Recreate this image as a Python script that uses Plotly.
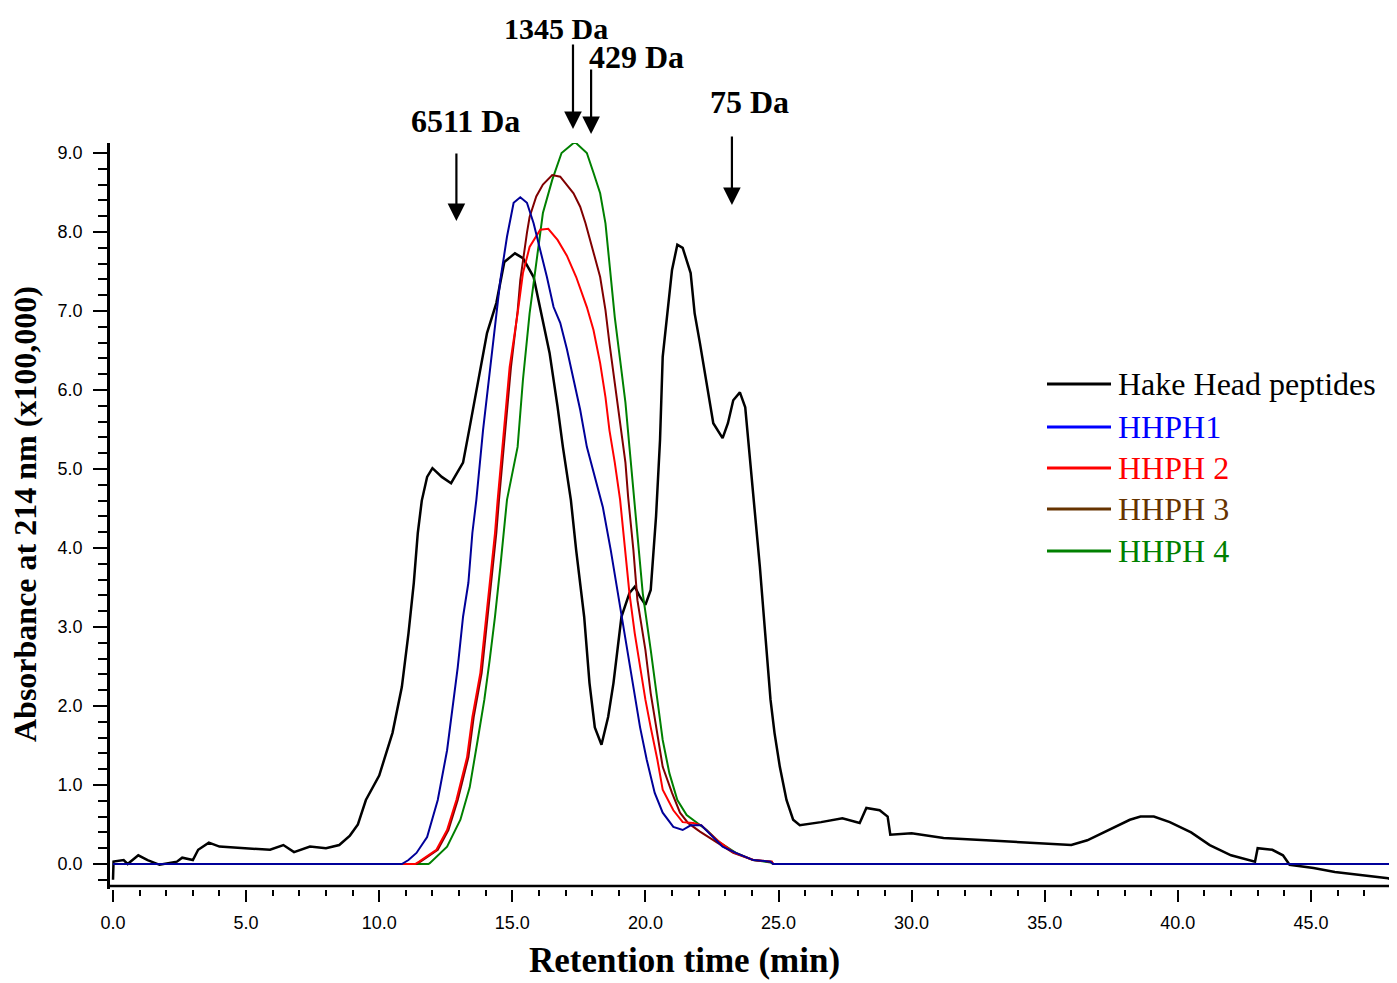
import plotly.graph_objects as go

# ---------------- data ----------------
hake_x = [0.0, 0.02, 0.4, 0.55, 0.95, 1.3, 1.75, 2.4, 2.6, 3.0, 3.2, 3.6, 4.0, 4.9, 5.9, 6.4, 6.8, 7.4, 8.0,
          8.5, 8.9, 9.2, 9.5, 10.0, 10.5, 10.85, 11.1, 11.3, 11.45, 11.6, 11.8, 12.0, 12.35, 12.7, 13.15,
          13.4, 13.8, 14.05, 14.4, 14.7, 15.1, 15.4, 15.8, 16.15, 16.4, 16.7, 16.9, 17.2, 17.4, 17.7, 17.9,
          18.1, 18.35, 18.6, 18.8, 19.1, 19.4, 19.6, 19.8, 20.0, 20.2, 20.4, 20.55, 20.65, 20.8, 21.0, 21.2,
          21.4, 21.7, 21.85, 22.05, 22.3, 22.55, 22.9, 23.1, 23.3, 23.55, 23.75, 23.9, 24.05, 24.3, 24.5,
          24.7, 24.85, 25.05, 25.3, 25.55, 25.8, 26.6, 27.4, 28.05, 28.3, 28.8, 29.1, 29.2, 30.0, 31.2,
          32.8, 34.3, 36.0, 36.6, 37.4, 38.2, 38.6, 39.1, 39.7, 40.5, 41.2, 42.0, 42.9, 43.0, 43.55, 43.95,
          44.2, 45.1, 45.9, 46.9, 47.9, 48.3]
hake_y = [-0.2, 0.03, 0.05, 0.0, 0.11, 0.05, -0.01, 0.03, 0.08, 0.05, 0.18, 0.27, 0.22, 0.2, 0.18, 0.24, 0.15,
          0.22, 0.2, 0.24, 0.36, 0.5, 0.81, 1.12, 1.66, 2.24, 2.92, 3.56, 4.19, 4.6, 4.9, 5.01, 4.9, 4.82,
          5.08, 5.53, 6.25, 6.72, 7.1, 7.62, 7.73, 7.67, 7.43, 6.89, 6.47, 5.79, 5.28, 4.61, 3.97, 3.13, 2.29,
          1.73, 1.51, 1.86, 2.29, 3.13, 3.43, 3.51, 3.38, 3.28, 3.47, 4.4, 5.37, 6.42, 6.92, 7.52, 7.84, 7.8,
          7.48, 6.97, 6.59, 6.09, 5.58, 5.39, 5.58, 5.87, 5.97, 5.78, 5.24, 4.73, 3.76, 2.92, 2.08, 1.66, 1.23,
          0.81, 0.56, 0.49, 0.53, 0.58, 0.52, 0.71, 0.68, 0.6, 0.37, 0.39, 0.33, 0.3, 0.27, 0.24, 0.3, 0.43,
          0.56, 0.6, 0.6, 0.53, 0.4, 0.24, 0.11, 0.03, 0.2, 0.18, 0.11, -0.01, -0.05, -0.1, -0.14, -0.18, -0.23]

hhph1_x = [0.0, 10.85, 11.1, 11.4, 11.8, 12.2, 12.55, 12.8, 12.95, 13.15, 13.35, 13.5, 13.65, 13.9, 14.3, 14.55,
           14.8, 15.05, 15.3, 15.55, 15.8, 16.05, 16.3, 16.55, 16.8, 17.05, 17.3, 17.55, 17.8, 18.05, 18.4,
           18.7, 18.9, 19.1, 19.3, 19.55, 19.8, 20.05, 20.35, 20.65, 21.05, 21.4, 21.7, 22.1, 22.4, 22.9, 23.4,
           24.05, 24.7, 24.8, 48.2]
hhph1_y = [0.0, 0.0, 0.05, 0.14, 0.34, 0.81, 1.44, 2.08, 2.49, 3.13, 3.56, 4.19, 4.61, 5.49, 6.63, 7.39, 7.94,
           8.37, 8.44, 8.37, 8.11, 7.77, 7.43, 7.05, 6.85, 6.52, 6.15, 5.75, 5.28, 4.95, 4.52, 3.97, 3.56, 3.13,
           2.71, 2.2, 1.73, 1.32, 0.9, 0.65, 0.47, 0.43, 0.49, 0.49, 0.39, 0.22, 0.14, 0.05, 0.03, 0.0, 0.0]

hhph2_x = [0.0, 11.35, 11.5, 12.15, 12.55, 12.9, 13.3, 13.5, 13.8, 13.95, 14.15, 14.35, 14.45, 14.65, 14.9, 15.2,
           15.4, 15.65, 16.05, 16.35, 16.7, 17.05, 17.4, 17.8, 18.05, 18.3, 18.5, 18.65, 18.85, 19.05, 19.25,
           19.4, 19.6, 19.8, 20.0, 20.2, 20.45, 20.65, 21.05, 21.4, 21.8, 22.1, 22.7, 23.3, 24.05, 24.75, 24.8,
           48.2]
hhph2_y = [0.0, 0.0, 0.03, 0.18, 0.43, 0.81, 1.35, 1.86, 2.42, 2.92, 3.51, 4.19, 4.61, 5.37, 6.29, 6.97, 7.48,
           7.81, 8.03, 8.04, 7.9, 7.7, 7.43, 7.05, 6.76, 6.34, 5.91, 5.49, 5.08, 4.61, 3.97, 3.43, 2.92, 2.49,
           2.08, 1.73, 1.32, 0.94, 0.68, 0.53, 0.52, 0.49, 0.3, 0.15, 0.05, 0.03, 0.0, 0.0]

hhph3_x = [0.0, 11.4, 11.55, 12.2, 12.6, 12.95, 13.35, 13.55, 13.85, 14.0, 14.2, 14.4, 14.5, 14.7, 14.95, 15.2,
           15.3, 15.55, 15.65, 15.9, 16.15, 16.5, 16.8, 17.3, 17.55, 17.75, 17.9, 18.1, 18.3, 18.5, 18.65, 18.85,
           19.05, 19.25, 19.35, 19.55, 19.7, 20.0, 20.2, 20.45, 20.65, 21.0, 21.3, 21.6, 22.05, 22.7, 23.3,
           24.05, 24.75, 24.8, 48.2]
hhph3_y = [0.0, 0.0, 0.03, 0.18, 0.43, 0.81, 1.35, 1.86, 2.42, 2.92, 3.51, 4.19, 4.61, 5.37, 6.29, 7.0, 7.39,
           7.99, 8.19, 8.45, 8.6, 8.72, 8.7, 8.49, 8.32, 8.11, 7.94, 7.68, 7.43, 7.01, 6.59, 6.09, 5.58, 5.08,
           4.65, 3.97, 3.34, 2.71, 2.16, 1.66, 1.23, 0.9, 0.65, 0.52, 0.41, 0.27, 0.14, 0.05, 0.03, 0.0, 0.0]

hhph4_x = [0.0, 11.85, 11.9, 12.55, 13.05, 13.4, 13.7, 13.95, 14.15, 14.35, 14.55, 14.8, 15.2, 15.4, 15.65, 15.9,
           16.15, 16.5, 16.85, 17.35, 17.8, 18.05, 18.3, 18.5, 18.65, 18.85, 19.05, 19.25, 19.4, 19.55, 19.7,
           19.9, 20.2, 20.45, 20.65, 20.9, 21.2, 21.55, 21.9, 22.3, 22.8, 23.4, 24.05, 24.7, 24.8, 48.2]
hhph4_y = [0.0, 0.0, 0.01, 0.22, 0.56, 0.97, 1.57, 2.08, 2.58, 3.13, 3.76, 4.61, 5.28, 6.13, 6.97, 7.61, 8.24,
           8.66, 9.0, 9.14, 9.0, 8.75, 8.49, 8.11, 7.61, 6.92, 6.38, 5.84, 5.28, 4.73, 4.1, 3.43, 2.71, 2.08,
           1.57, 1.15, 0.81, 0.62, 0.53, 0.43, 0.27, 0.14, 0.05, 0.02, 0.0, 0.0]

series_names = ["Hake Head peptides", "HHPH1", "HHPH 2", "HHPH 3", "HHPH 4"]
line_colors = ["#000000", "#000099", "#FF0000", "#800000", "#008000"]
legend_colors = ["#000000", "#0000FF", "#FF0000", "#663300", "#008000"]

marker_labels = ["6511 Da", "1345 Da", "429 Da", "75 Da"]
marker_times = [12.9, 17.28, 17.96, 23.25]

x_tick_vals = [0, 5, 10, 15, 20, 25, 30, 35, 40, 45]
y_tick_vals = [0, 1, 2, 3, 4, 5, 6, 7, 8, 9]

# ---------------- layout helpers (screen pixel -> paper) ----------------
SCREEN_W, SCREEN_H = 1397, 983
BODY = 8                      # default page margin around the plot div
W, H = SCREEN_W - BODY, SCREEN_H - BODY
L, R, T, B = 110, 1395, 143, 889   # plot area in screen pixels


def pxx(p):
    return (p - L) / (R - L)


def pxy(p):
    return (B - p) / (B - T)


SERIF = "Liberation Serif, Times New Roman, serif"
SANS = "Liberation Sans, Arial, sans-serif"

fig = go.Figure()
xs = [hake_x, hhph1_x, hhph2_x, hhph3_x, hhph4_x]
ys = [hake_y, hhph1_y, hhph2_y, hhph3_y, hhph4_y]
widths = [2.5, 2, 2, 2, 2]
order = [0, 4, 3, 2, 1]
for i in order:
    fig.add_trace(go.Scatter(x=xs[i], y=ys[i], mode="lines", name=series_names[i],
                             line=dict(color=line_colors[i], width=widths[i]),
                             showlegend=False))

annotations = []
shapes = []

# x axis line (drawn slightly above the tick row, as in the reference)
shapes.append(dict(type="line", xref="paper", yref="paper", x0=0, x1=1,
                   y0=pxy(886), y1=pxy(886), line=dict(color="black", width=2.5)))

# legend (manual)
leg_rows = [384, 427, 468, 509, 551]
for name, col, yy in zip(series_names, legend_colors, leg_rows):
    shapes.append(dict(type="line", xref="paper", yref="paper", x0=pxx(1047), x1=pxx(1111),
                       y0=pxy(yy), y1=pxy(yy), line=dict(color=col, width=3)))
    annotations.append(dict(text=name, xref="paper", yref="paper", x=pxx(1116), y=pxy(yy),
                            xanchor="left", yanchor="middle", showarrow=False,
                            font=dict(family=SERIF, size=32, color=col)))

# molecular-weight markers
label_pos = [(465, 121), (556, 28), (636, 57), (749, 102)]
label_size = [32, 30, 32, 32]
arrow_px = [(152, 221), (43, 129), (68, 134), (135, 205)]
for lab, t, (lx, ly), (ty, hy), fs in zip(marker_labels, marker_times, label_pos, arrow_px, label_size):
    annotations.append(dict(text=lab, xref="paper", yref="paper", x=pxx(lx), y=pxy(ly),
                            xanchor="center", yanchor="middle", showarrow=False,
                            font=dict(family=SERIF, size=fs, color="black", weight="bold")))
    annotations.append(dict(text="", xref="x", yref="paper", x=t, y=pxy(hy),
                            ax=0, ay=-(hy - ty), axref="pixel", ayref="pixel",
                            showarrow=True, arrowhead=2, arrowsize=1.6, arrowwidth=2.2,
                            arrowcolor="black", standoff=0, startstandoff=0))

# axis titles
annotations.append(dict(text="Retention time (min)", xref="paper", yref="paper",
                        x=pxx(684), y=pxy(960), xanchor="center", yanchor="middle", showarrow=False,
                        font=dict(family=SERIF, size=35, color="black", weight="bold")))
annotations.append(dict(text="Absorbance at 214 nm (x100,000)", xref="paper", yref="paper",
                        x=pxx(25), y=pxy(514), xanchor="center", yanchor="middle", showarrow=False,
                        textangle=-90,
                        font=dict(family=SERIF, size=32, color="black", weight="bold")))

fig.update_layout(
    width=W, height=H,
    margin=dict(l=L - BODY, r=SCREEN_W - R, t=T - BODY, b=SCREEN_H - B, pad=0),
    paper_bgcolor="white", plot_bgcolor="white",
    showlegend=False,
    annotations=annotations,
    shapes=shapes,
)

fig.update_xaxes(range=[(L - 113) / 26.62, (R - 113) / 26.62],
                 tickvals=x_tick_vals, ticktext=[f"{v:.1f}" for v in x_tick_vals],
                 ticks="outside", ticklen=12, tickwidth=2, tickcolor="black",
                 minor=dict(dtick=1, ticks="outside", ticklen=6, tickwidth=2, tickcolor="black"),
                 showline=False, showgrid=False, zeroline=False,
                 tickfont=dict(family=SANS, size=18, color="black"), ticklabelstandoff=5)

fig.update_yaxes(range=[(864 - B) / 79.0, (864 - T) / 79.0],
                 tickvals=y_tick_vals, ticktext=[f"{v:.1f}" for v in y_tick_vals],
                 ticks="outside", ticklen=14, tickwidth=2, tickcolor="black",
                 minor=dict(dtick=0.2, tick0=0, ticks="outside", ticklen=9, tickwidth=2, tickcolor="black"),
                 showline=True, linecolor="black", linewidth=2.5,
                 showgrid=False, zeroline=False,
                 tickfont=dict(family=SANS, size=18, color="black"), ticklabelstandoff=7)

fig.write_html("out.html")
